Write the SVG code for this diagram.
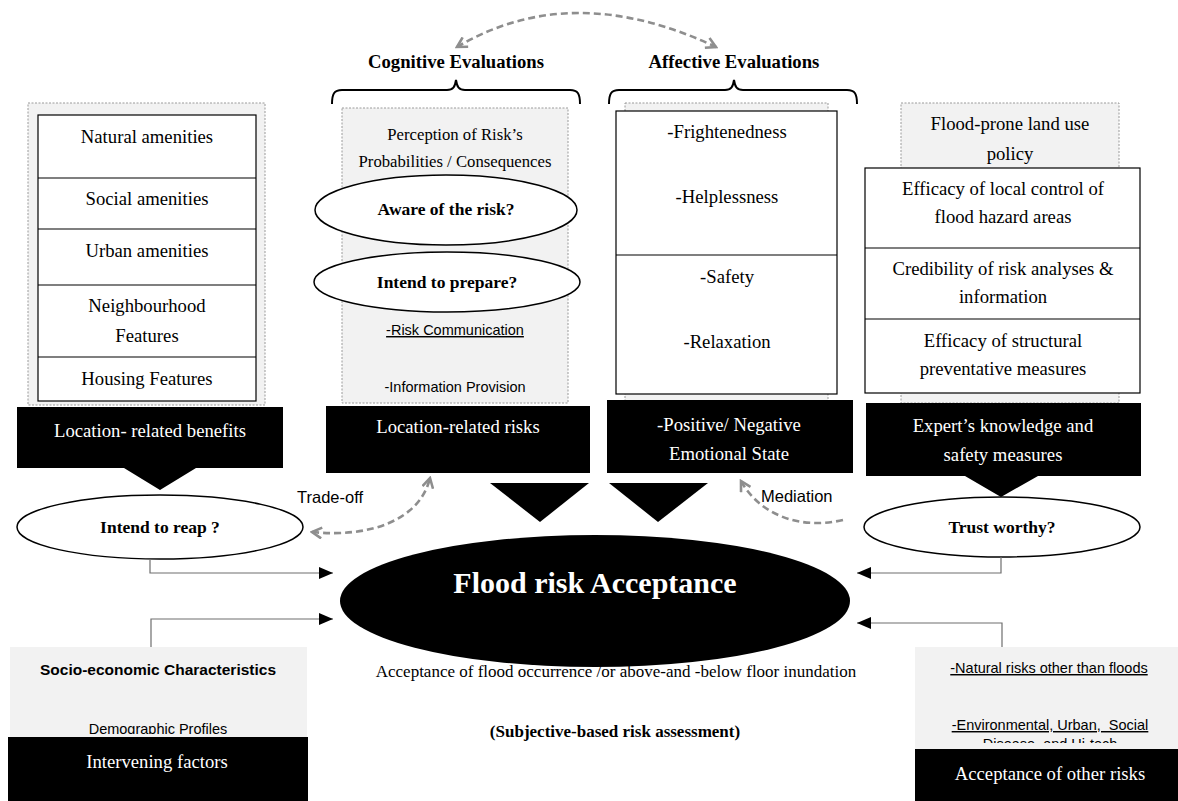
<svg xmlns="http://www.w3.org/2000/svg" width="1178" height="801" viewBox="0 0 1178 801">
  <style>
    .serif { font-family: "Liberation Serif", "Times New Roman", serif; }
    .sans { font-family: "Liberation Sans", Arial, sans-serif; }
    .t19 { font-size: 18.7px; fill: #000; text-anchor: middle; }
    .w19 { font-size: 18.7px; fill: #fff; text-anchor: middle; }
    .b17 { font-size: 17.5px; font-weight: bold; fill: #000; text-anchor: middle; }
    .panel { fill: #f2f2f2; stroke: #9a9a9a; stroke-width: 1; stroke-dasharray: 2 1.5; }
    .shade { fill: #f2f2f2; stroke: none; }
    .box { fill: #fff; stroke: #000; stroke-width: 1.2; }
    .rule { stroke: #000; stroke-width: 1.2; }
    .block { fill: #000; }
    .oval { fill: #fff; stroke: #000; stroke-width: 1.5; }
    .brace { fill: none; stroke: #000; stroke-width: 2; }
    .link { fill: none; stroke: #6e6e6e; stroke-width: 1.2; }
    .dash { fill: none; stroke: #8e8e8e; stroke-width: 2.6; stroke-dasharray: 7 4; }
    .under { text-decoration: underline; }
    .pre { white-space: pre; }
  </style>
  <defs>
    <marker id="vee" viewBox="0 0 12 12" refX="10" refY="6" markerWidth="13" markerHeight="13" markerUnits="userSpaceOnUse" orient="auto-start-reverse">
      <path d="M1,1 L10,6 L1,11" fill="none" stroke="#8e8e8e" stroke-width="2.4" stroke-dasharray="none"/>
    </marker>
    <marker id="solid" viewBox="0 0 14 12" refX="14" refY="6" markerWidth="14" markerHeight="12" markerUnits="userSpaceOnUse" orient="auto">
      <path d="M0,0 L14,6 L0,12 Z" fill="#000"/>
    </marker>
    <clipPath id="clipCog"><rect x="342" y="108" width="226" height="284"/></clipPath>
    <clipPath id="clipSocio"><rect x="10" y="647" width="297" height="87"/></clipPath>
    <clipPath id="clipOther"><rect x="915" y="647" width="263" height="96"/></clipPath>
  </defs>

  <!-- headings with their braces -->
  <g id="cognitive-heading">
    <text class="serif" x="456" y="68" font-size="18.7" font-weight="bold" text-anchor="middle">Cognitive Evaluations</text>
    <path class="brace" d="M332,104 C332,94 334,90 342,90 L447,90 C453,90 455,87 456,80 C457,87 459,90 465,90 L570,90 C578,90 580,94 580,104"/>
  </g>
  <g id="affective-heading">
    <text class="serif" x="734" y="68" font-size="18.7" font-weight="bold" text-anchor="middle">Affective Evaluations</text>
    <path class="brace" d="M609,104 C609,94 611,90 619,90 L725,90 C731,90 733,87 734,80 C735,87 737,90 743,90 L847,90 C855,90 857,94 857,104"/>
  </g>

  <!-- location benefits column -->
  <g id="benefits-list">
    <rect class="panel" x="28" y="103" width="237" height="302"/>
    <rect class="box" x="38" y="115" width="218" height="286"/>
    <line class="rule" x1="38" y1="178" x2="256" y2="178"/>
    <line class="rule" x1="38" y1="229" x2="256" y2="229"/>
    <line class="rule" x1="38" y1="285" x2="256" y2="285"/>
    <line class="rule" x1="38" y1="357" x2="256" y2="357"/>
    <text class="serif t19" x="147" y="143">Natural amenities</text>
    <text class="serif t19" x="147" y="205">Social amenities</text>
    <text class="serif t19" x="147" y="257">Urban amenities</text>
    <text class="serif t19" x="147" y="312">Neighbourhood</text>
    <text class="serif t19" x="147" y="342">Features</text>
    <text class="serif t19" x="147" y="385">Housing Features</text>
  </g>
  <g id="benefits">
    <path class="block" d="M17,407 H283 V468 H196 L160,490 L124,468 H17 Z"/>
    <text class="serif w19" x="150" y="437">Location- related benefits</text>
  </g>
  <g id="intend-reap">
    <ellipse class="oval" cx="160" cy="527" rx="143" ry="32"/>
    <text class="serif b17" x="160" y="533">Intend to reap ?</text>
  </g>

  <!-- cognitive column -->
  <g id="risk-perception">
    <rect class="panel" x="342" y="108" width="226" height="295"/>
    <text class="serif" x="455" y="140" font-size="16.7" text-anchor="middle">Perception of Risk’s</text>
    <text class="serif" x="455" y="167" font-size="16.7" text-anchor="middle">Probabilities / Consequences</text>
    <g clip-path="url(#clipCog)">
      <text class="sans under" x="455" y="335" font-size="14.5" text-anchor="middle">-Risk Communication</text>
      <text class="sans" x="455" y="392" font-size="14.5" text-anchor="middle">-Information Provision</text>
    </g>
  </g>
  <g id="aware">
    <ellipse class="oval" cx="446" cy="210" rx="131" ry="35"/>
    <text class="serif b17" x="446" y="215">Aware of the risk?</text>
  </g>
  <g id="intend-prepare">
    <ellipse class="oval" cx="447" cy="282" rx="133" ry="30"/>
    <text class="serif b17" x="447" y="288">Intend to prepare?</text>
  </g>
  <g id="risks">
    <rect class="block" x="326" y="406" width="264" height="67"/>
    <text class="serif w19" x="458" y="433">Location-related risks</text>
  </g>

  <!-- affective column -->
  <g id="emotions">
    <rect class="panel" x="625" y="103" width="203" height="298"/>
    <rect class="box" x="616" y="111" width="221" height="283"/>
    <line class="rule" x1="616" y1="255" x2="837" y2="255"/>
    <text class="serif t19" x="727" y="138">-Frightenedness</text>
    <text class="serif t19" x="727" y="203">-Helplessness</text>
    <text class="serif t19" x="727" y="283">-Safety</text>
    <text class="serif t19" x="727" y="348">-Relaxation</text>
  </g>
  <g id="emotional-state">
    <rect class="block" x="607" y="400" width="246" height="73"/>
    <text class="serif w19" x="729" y="431">-Positive/ Negative</text>
    <text class="serif w19" x="729" y="460">Emotional State</text>
  </g>

  <!-- expert column -->
  <g id="expert-list">
    <rect class="panel" x="901" y="103" width="218" height="300"/>
    <text class="serif t19" x="1010" y="130">Flood-prone land use</text>
    <text class="serif t19" x="1010" y="160">policy</text>
    <rect class="box" x="865" y="168" width="275" height="225"/>
    <line class="rule" x1="865" y1="248" x2="1140" y2="248"/>
    <line class="rule" x1="865" y1="319" x2="1140" y2="319"/>
    <text class="serif t19" x="1003" y="195">Efficacy of local control of</text>
    <text class="serif t19" x="1003" y="223">flood hazard areas</text>
    <text class="serif t19" x="1003" y="275">Credibility of risk analyses &amp;</text>
    <text class="serif t19" x="1003" y="303">information</text>
    <text class="serif t19" x="1003" y="347">Efficacy of structural</text>
    <text class="serif t19" x="1003" y="375">preventative measures</text>
  </g>
  <g id="expert">
    <path class="block" d="M866,403 H1141 V476 H1038 L1001,497 L965,476 H866 Z"/>
    <text class="serif w19" x="1003" y="432">Expert’s knowledge and</text>
    <text class="serif w19" x="1003" y="461">safety measures</text>
  </g>
  <g id="trust">
    <ellipse class="oval" cx="1002" cy="527" rx="138" ry="30"/>
    <text class="serif b17" x="1002" y="533">Trust worthy?</text>
  </g>

  <!-- downward pointers into the acceptance node -->
  <g id="pointer-cognitive"><path class="block" d="M490,483 H589 L540,522 Z"/></g>
  <g id="pointer-affective"><path class="block" d="M609,483 H708 L658,522 Z"/></g>

  <!-- central node -->
  <g id="acceptance">
    <ellipse class="block" cx="595" cy="601" rx="255" ry="66"/>
    <text class="serif" x="595" y="593" font-size="30" font-weight="bold" fill="#fff" text-anchor="middle">Flood risk Acceptance</text>
    <text class="serif" x="616" y="677" font-size="17" text-anchor="middle">Acceptance of flood occurrence /or above-and -below floor inundation</text>
    <text class="serif" x="615" y="737" font-size="17" font-weight="bold" text-anchor="middle">(Subjective-based risk assessment)</text>
  </g>

  <!-- intervening factors -->
  <g id="socio">
    <rect class="shade" x="10" y="647" width="297" height="90"/>
    <text class="sans" x="158" y="675" font-size="15.5" font-weight="bold" text-anchor="middle">Socio-economic Characteristics</text>
    <g clip-path="url(#clipSocio)">
      <text class="sans" x="158" y="734" font-size="14.5" text-anchor="middle">Demographic Profiles</text>
    </g>
  </g>
  <g id="intervening">
    <rect class="block" x="8" y="737" width="300" height="64"/>
    <text class="serif w19" x="157" y="768">Intervening factors</text>
  </g>

  <!-- other risks -->
  <g id="other-risks-list">
    <rect class="shade" x="915" y="647" width="263" height="102"/>
    <text class="sans under" x="1049" y="673" font-size="14.5" text-anchor="middle">-Natural risks other than floods</text>
    <g clip-path="url(#clipOther)">
      <text class="sans under pre" x="1050" y="730" font-size="14.5" text-anchor="middle">-Environmental, Urban,  Social</text>
      <text class="sans" x="1050" y="749" font-size="14.5" text-anchor="middle">Disease, and Hi-tech</text>
    </g>
  </g>
  <g id="other-risks">
    <rect class="block" x="915" y="749" width="263" height="52"/>
    <text class="serif w19" x="1050" y="780">Acceptance of other risks</text>
  </g>

  <!-- connectors -->
  <g id="connectors">
    <path class="dash" d="M457,47 Q572,-21 716,47" marker-start="url(#vee)" marker-end="url(#vee)"/>
    <path class="dash" d="M312,532 C370,538 420,520 430,478" marker-start="url(#vee)" marker-end="url(#vee)"/>
    <path class="dash" d="M843,520 C800,530 760,515 741,481" marker-end="url(#vee)"/>
    <path class="link" d="M150,559 V573 H333" marker-end="url(#solid)"/>
    <path class="link" d="M151,647 V619 H333" marker-end="url(#solid)"/>
    <path class="link" d="M1001,557 V573 H857" marker-end="url(#solid)"/>
    <path class="link" d="M1002,647 V623 H857" marker-end="url(#solid)"/>
    <text class="sans" x="297" y="503" font-size="16.5">Trade-off</text>
    <text class="sans" x="761" y="502" font-size="16.5">Mediation</text>
  </g>
</svg>
